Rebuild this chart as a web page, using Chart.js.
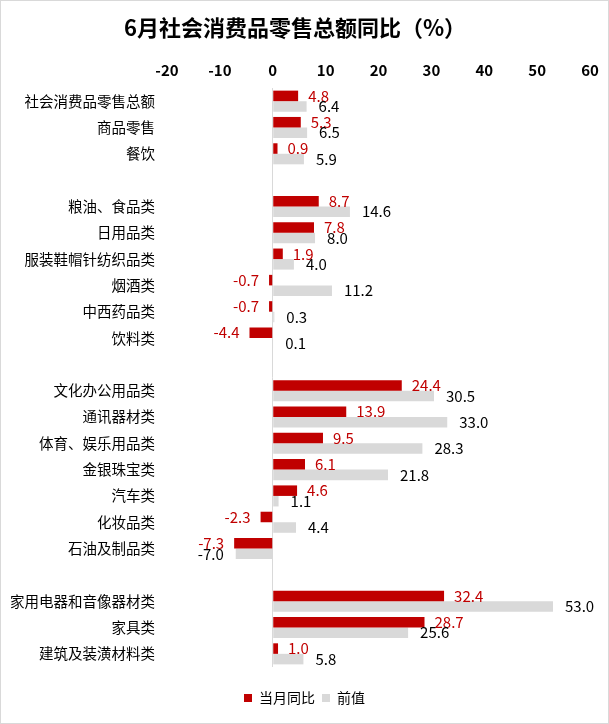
<!DOCTYPE html>
<html>
<head>
<meta charset="utf-8">
<script src="https://cdn.jsdelivr.net/npm/chart.js@4.4.1/dist/chart.umd.min.js"></script>
<style>
  html, body { margin: 0; padding: 0; background: #fff; }
  #wrap { width: 609px; height: 724px; }
</style>
</head>
<body>
<div id="wrap"><canvas id="c" width="609" height="724"></canvas></div>
<script>
// categories (blank entries are the gaps between groups)
const categories = [
  '社会消费品零售总额', '商品零售', '餐饮', '',
  '粮油、食品类', '日用品类', '服装鞋帽针纺织品类', '烟酒类', '中西药品类', '饮料类', ' ',
  '文化办公用品类', '通讯器材类', '体育、娱乐用品类', '金银珠宝类', '汽车类', '化妆品类', '石油及制品类', '  ',
  '家用电器和音像器材类', '家具类', '建筑及装潢材料类'
];
const currentYoY = [
  4.8, 5.3, 0.9, null,
  8.7, 7.8, 1.9, -0.7, -0.7, -4.4, null,
  24.4, 13.9, 9.5, 6.1, 4.6, -2.3, -7.3, null,
  32.4, 28.7, 1.0
];
const previous = [
  6.4, 6.5, 5.9, null,
  14.6, 8.0, 4.0, 11.2, 0.3, 0.1, null,
  30.5, 33.0, 28.3, 21.8, 1.1, 4.4, -7.0, null,
  53.0, 25.6, 5.8
];

const RED = '#c00000';
const GRAY = '#d9d9d9';
const FONT = "'Noto Sans CJK SC', 'Noto Sans', sans-serif";

const frame = {
  id: 'frame',
  beforeDraw(chart) {
    const ctx = chart.ctx;
    ctx.save();
    ctx.fillStyle = '#fff';
    ctx.fillRect(0, 0, chart.width, chart.height);
    ctx.strokeStyle = '#d9d9d9';
    ctx.lineWidth = 1;
    ctx.strokeRect(0.5, 0.5, chart.width - 1, chart.height - 1);
    ctx.restore();
  }
};

const valueLabels = {
  id: 'valueLabels',
  afterDatasetsDraw(chart) {
    const ctx = chart.ctx;
    ctx.save();
    ctx.font = '15px ' + FONT;
    ctx.textBaseline = 'middle';
    chart.data.datasets.forEach((ds, i) => {
      const meta = chart.getDatasetMeta(i);
      ctx.fillStyle = i === 0 ? RED : '#000';
      const off = i === 0 ? 10 : 12;
      meta.data.forEach((bar, j) => {
        const v = ds.data[j];
        if (v === null) return;
        const txt = v.toFixed(1);
        if (v >= 0) {
          ctx.textAlign = 'left';
          ctx.fillText(txt, bar.x + off, bar.y);
        } else {
          ctx.textAlign = 'right';
          ctx.fillText(txt, bar.x - off, bar.y);
        }
      });
    });
    ctx.restore();
  }
};

// small legend under the plot, drawn from the dataset labels/colours
const bottomLegend = {
  id: 'bottomLegend',
  afterDraw(chart) {
    const ctx = chart.ctx;
    const box = 8, gap = 7, itemGap = 7;
    const cy = chart.chartArea.bottom + 31;
    ctx.save();
    ctx.font = '14px ' + FONT;
    ctx.textBaseline = 'middle';
    ctx.textAlign = 'left';
    const items = chart.data.datasets.map(ds => ({
      text: ds.label, color: ds.backgroundColor, w: ctx.measureText(ds.label).width
    }));
    let total = 0;
    items.forEach((it, k) => { total += box + gap + it.w + (k ? itemGap : 0); });
    let x = chart.width / 2 - total / 2;
    items.forEach(it => {
      ctx.fillStyle = it.color;
      ctx.fillRect(x, cy - box / 2, box, box);
      ctx.fillStyle = '#000';
      ctx.fillText(it.text, x + box + gap, cy);
      x += box + gap + it.w + itemGap;
    });
    ctx.restore();
  }
};

new Chart(document.getElementById('c'), {
  type: 'bar',
  data: {
    labels: categories,
    datasets: [
      { label: '当月同比', data: currentYoY, backgroundColor: RED,
        categoryPercentage: 0.8, barPercentage: 1.0 },
      { label: '前值', data: previous, backgroundColor: GRAY,
        categoryPercentage: 0.8, barPercentage: 1.0 }
    ]
  },
  options: {
    indexAxis: 'y',
    responsive: false,
    animation: false,
    layout: { padding: { left: 0, right: 19, top: 0, bottom: 57 } },
    scales: {
      x: {
        position: 'top',
        min: -20, max: 60,
        afterFit(s) { s.height = 34; },
        border: { display: false },
        grid: {
          drawTicks: false,
          color: c => (c.tick && c.tick.value === 0 ? '#d9d9d9' : 'rgba(0,0,0,0)')
        },
        ticks: {
          stepSize: 10, padding: 9, color: '#000',
          font: { family: FONT, size: 15, weight: 'bold' }
        }
      },
      y: {
        afterFit(s) { s.width = 167; },
        border: { display: false },
        grid: { display: false, drawTicks: false },
        ticks: {
          padding: 12, color: '#000', autoSkip: false,
          font: { family: FONT, size: 14.5 }
        }
      }
    },
    plugins: {
      title: {
        display: true,
        text: '6月社会消费品零售总额同比（%）',
        color: '#000',
        font: { family: FONT, size: 22, weight: 'bold', lineHeight: 1.2 },
        padding: { top: 14, bottom: 13.6 }
      },
      legend: { display: false },
      tooltip: { enabled: false }
    }
  },
  plugins: [frame, valueLabels, bottomLegend]
});
</script>
</body>
</html>
